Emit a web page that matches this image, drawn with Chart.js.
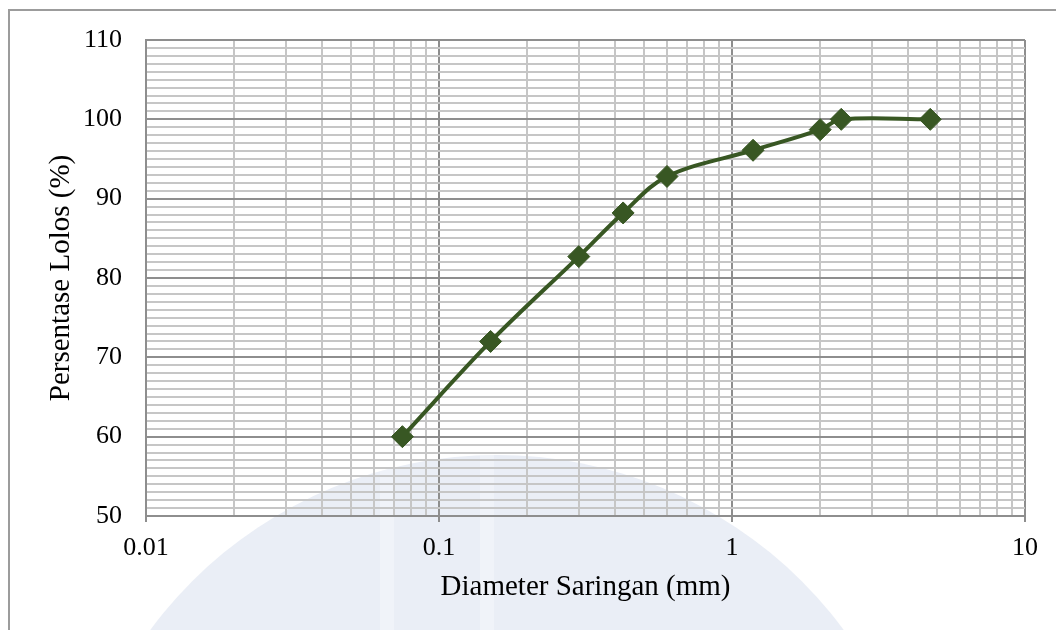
<!DOCTYPE html>
<html>
<head>
<meta charset="utf-8">
<script src="https://cdn.jsdelivr.net/npm/chart.js@4"></script>
<style>
  html, body { margin: 0; padding: 0; background: #fff; }
  #wrap { width: 1056px; height: 630px; }
</style>
</head>
<body>
<div id="wrap"><canvas id="gradationChart"></canvas></div>
<script>
// sieve sizes (mm) and percent passing
const sieveSizes = [0.075, 0.15, 0.3, 0.425, 0.6, 1.18, 2, 2.36, 4.75];
const percentPassing = [60, 72, 82.7, 88.2, 92.8, 96.1, 98.7, 100, 100];

const xTickValues = [0.01, 0.02, 0.03, 0.04, 0.05, 0.06, 0.07, 0.08, 0.09,
  0.1, 0.2, 0.3, 0.4, 0.5, 0.6, 0.7, 0.8, 0.9,
  1, 2, 3, 4, 5, 6, 7, 8, 9, 10];
const xMajorLabels = ['0.01', '0.1', '1', '10'];

const majorGrid = '#8e8e8e';
const minorGrid = '#c6c6c6';
const green = '#385723';

function isMajorX(v) {
  return xMajorLabels.indexOf(String(v)) !== -1;
}

// frame + faint watermark behind the plot
const backdrop = {
  id: 'backdrop',
  beforeDraw(chart) {
    const ctx = chart.ctx;
    ctx.save();
    ctx.fillStyle = '#ffffff';
    ctx.fillRect(0, 0, chart.width, chart.height);
    ctx.beginPath();
    ctx.arc(497, 886, 431, 0, Math.PI * 2);
    ctx.fillStyle = '#eaeef6';
    ctx.fill();
    ctx.clip();
    // softer pillars in the watermark
    ctx.fillStyle = 'rgba(255,255,255,0.3)';
    ctx.fillRect(380, 440, 14, 200);
    ctx.fillRect(480, 440, 14, 200);
    ctx.restore();

    ctx.save();
    ctx.strokeStyle = '#9c9c9c';
    ctx.lineWidth = 2;
    ctx.beginPath();
    ctx.moveTo(9, chart.height);
    ctx.lineTo(9, 10);
    ctx.lineTo(chart.width, 10);
    ctx.stroke();
    ctx.restore();
  }
};

const points = sieveSizes.map((s, i) => ({ x: s, y: percentPassing[i] }));

new Chart(document.getElementById('gradationChart'), {
  type: 'line',
  data: {
    datasets: [{
      label: 'Persentase Lolos',
      data: points,
      borderColor: green,
      backgroundColor: green,
      borderWidth: 4,
      tension: 0.35,
      pointStyle: 'rectRot',
      pointRadius: 11,
      pointHoverRadius: 11,
      pointBorderWidth: 1,
      fill: false
    }]
  },
  options: {
    responsive: true,
    maintainAspectRatio: false,
    animation: false,
    layout: { padding: { top: 40, right: 31, left: 0, bottom: 0 } },
    plugins: {
      legend: { display: false },
      tooltip: { enabled: false }
    },
    scales: {
      x: {
        type: 'logarithmic',
        min: 0.01,
        max: 10,
        afterBuildTicks(scale) {
          scale.ticks = xTickValues.map(v => ({ value: v }));
        },
        afterFit(scale) { scale.height = 114; },
        grid: {
          color: c => isMajorX(c.tick && c.tick.value) ? majorGrid : minorGrid,
          tickColor: c => isMajorX(c.tick && c.tick.value) ? majorGrid : 'rgba(0,0,0,0)',
          lineWidth: 2,
          tickLength: 6
        },
        border: { color: majorGrid, width: 2 },
        ticks: {
          autoSkip: false,
          maxRotation: 0,
          padding: 11,
          color: '#000',
          font: { family: 'Liberation Serif', size: 26 },
          callback: v => isMajorX(v) ? String(v) : ''
        },
        title: {
          display: true,
          text: 'Diameter Saringan (mm)',
          color: '#000',
          font: { family: 'Liberation Serif', size: 29 },
          padding: { top: 0, bottom: 25 }
        }
      },
      y: {
        min: 50,
        max: 110,
        afterFit(scale) { scale.width = 146; },
        grid: {
          color: c => (c.tick && c.tick.value % 10 === 0) ? majorGrid : minorGrid,
          lineWidth: 2,
          drawTicks: false
        },
        border: { color: majorGrid, width: 2 },
        ticks: {
          stepSize: 1,
          autoSkip: false,
          padding: 24,
          color: '#000',
          font: { family: 'Liberation Serif', size: 26 },
          callback: v => v % 10 === 0 ? String(v) : ''
        },
        title: {
          display: true,
          text: 'Persentase Lolos (%)',
          color: '#000',
          font: { family: 'Liberation Serif', size: 29 },
          padding: { top: 44, bottom: 0 }
        }
      }
    }
  },
  plugins: [backdrop]
});
</script>
</body>
</html>
